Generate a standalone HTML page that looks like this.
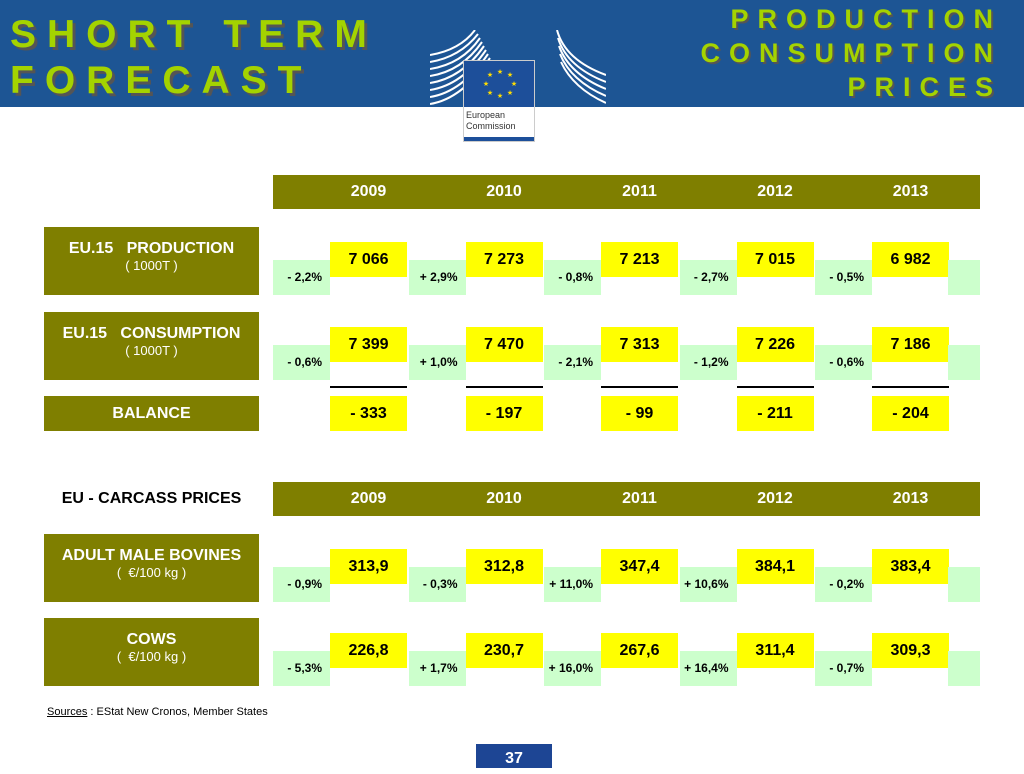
<!DOCTYPE html>
<html><head><meta charset="utf-8"><style>
*{margin:0;padding:0;box-sizing:border-box}
body{width:1024px;height:768px;position:relative;background:#fff;font-family:"Liberation Sans",Arial,sans-serif;overflow:hidden}
.abs{position:absolute}
.hdr{background:#1d5594;left:0;top:0;width:1024px;height:107px}
.big{color:#a4d300;font-weight:bold;text-shadow:3px 3px 0 #555;letter-spacing:11px;font-size:39px;line-height:46px}
.rt{color:#a4d300;font-weight:bold;text-shadow:2px 2px 0 #555;letter-spacing:9px;font-size:27px;line-height:34px;text-align:right}
.olive{background:#7f7f00;color:#fff;font-weight:bold;font-size:16px;display:flex;align-items:center;justify-content:center;text-align:center}
.lab{background:#7f7f00;color:#fff;font-weight:bold;font-size:16px;text-align:center}
.lab small{display:block;font-weight:normal;font-size:13px}
.yel{background:#ffff00;font-weight:bold;font-size:16px;text-align:center;height:35px;line-height:36px;width:77px}
.grn{background:#ccffcc;font-weight:bold;font-size:12px;text-align:right;padding-right:8px;height:35px;line-height:35px;width:57px}
</style></head><body>
<div class="abs hdr"></div>
<div class="abs big" style="left:10px;top:12px">SHORT TERM<br>FORECAST</div>
<div class="abs rt" style="right:22px;top:2px">PRODUCTION<br>CONSUMPTION<br>PRICES</div>
<div class="abs" style="left:430px;top:30px;width:176px;height:78px">
<svg width="176" height="78"><g stroke="#fff" stroke-width="2" fill="none">
<path d="M0 25 Q30 20 45 0"/><path d="M0 32 Q30 27 48 4"/><path d="M0 39 Q32 34 50 8"/><path d="M0 46 Q32 41 52 12"/><path d="M0 53 Q32 48 54 16"/><path d="M0 60 Q32 55 56 20"/><path d="M0 67 Q32 62 58 24"/><path d="M0 74 Q32 69 60 28"/>
<path d="M127 0 Q135 30 176 45"/><path d="M128 8 Q137 37 176 52"/><path d="M129 16 Q139 44 176 59"/><path d="M130 24 Q141 51 176 66"/><path d="M131 32 Q143 58 176 73"/></g></svg></div>
<div class="abs" style="left:463px;top:60px;width:72px;height:82px;background:#fff;border:1px solid #ccc">
<div style="background:#1d4f9a;height:46px;position:relative"><svg width="72" height="46"><g fill="#ffdd00" font-size="7" text-anchor="middle"><text x="36" y="13">★</text><text x="46" y="16">★</text><text x="50" y="25">★</text><text x="46" y="34">★</text><text x="36" y="37">★</text><text x="26" y="34">★</text><text x="22" y="25">★</text><text x="26" y="16">★</text></g></svg></div>
<div style="font-size:9px;color:#333;padding:3px 2px;line-height:11px">European<br>Commission</div>
<div style="position:absolute;bottom:0;left:0;right:0;height:4px;background:#1d4f9a"></div></div>

<div id="t1"></div>
<div class="abs" style="left:47px;top:706px;font-size:11px"><u>Sources</u> : EStat New Cronos, Member States</div>
<div class="abs" style="left:476px;top:744px;width:76px;height:24px;background:#1d4594;color:#fff;font-weight:bold;font-size:16px;text-align:center;line-height:30px">37</div>
<script>
const years=["2009","2010","2011","2012","2013"];
const prodVals=["7 066","7 273","7 213","7 015","6 982"];
const prodPct=["- 2,2%","+ 2,9%","- 0,8%","- 2,7%","- 0,5%"];
const consVals=["7 399","7 470","7 313","7 226","7 186"];
const consPct=["- 0,6%","+ 1,0%","- 2,1%","- 1,2%","- 0,6%"];
const balVals=["- 333","- 197","- 99","- 211","- 204"];
const amVals=["313,9","312,8","347,4","384,1","383,4"];
const amPct=["- 0,9%","- 0,3%","+ 11,0%","+ 10,6%","- 0,2%"];
const cowVals=["226,8","230,7","267,6","311,4","309,3"];
const cowPct=["- 5,3%","+ 1,7%","+ 16,0%","+ 16,4%","- 0,7%"];
const B=document.body;
const colX=i=>273+i*135.5;
function mk(cls,x,y,w,h,txt,name){const d=document.createElement('div');d.className='abs '+cls;d.style.left=x+'px';d.style.top=y+'px';if(w)d.style.width=w+'px';if(h)d.style.height=h+'px';d.innerHTML=txt;


B.appendChild(d);return d;}
function header(y,name){mk('olive',273,y,707,34,'',name);years.forEach((yr,i)=>{const d=mk('',colX(i)+57,y,77,34,yr,'year-'+yr);d.style.cssText+=';color:#fff;font-weight:bold;font-size:16px;text-align:center;line-height:34px';});}
function row(y,label,sub,vals,pct,key){const l=mk('lab',44,y,215,68,label+'<small>'+sub+'</small>',key+'-label');l.style.paddingTop='13px';
vals.forEach((v,i)=>{mk('yel',colX(i)+57,y+15,77,35,v,key+'-value-'+years[i]);mk('grn',colX(i),y+33,57,35,pct[i],key+'-change-'+years[i]);});
mk('grn',948,y+33,32,35,'',key+'-change-end');}
header(175,'year-header');
row(227,'EU.15 &nbsp; PRODUCTION','( 1000T )',prodVals,prodPct,'production');
row(312,'EU.15 &nbsp; CONSUMPTION','( 1000T )',consVals,consPct,'consumption');
const bl=mk('lab',44,396,215,35,'BALANCE','balance-label');bl.style.lineHeight='35px';
balVals.forEach((v,i)=>{mk('',colX(i)+57,386,77,2,'','balance-rule-'+years[i]).style.background='#000';mk('yel',colX(i)+57,396,77,35,v,'balance-value-'+years[i]);});
const pl=mk('',44,482,215,34,'EU - CARCASS PRICES','prices-title');pl.style.cssText+=';font-weight:bold;font-size:16px;text-align:center;line-height:34px';
header(482,'price-year-header');
row(534,'ADULT MALE BOVINES','( &nbsp;€/100 kg )',amVals,amPct,'adult-male');
row(618,'COWS','( &nbsp;€/100 kg )',cowVals,cowPct,'cows');
</script>
</body></html>
